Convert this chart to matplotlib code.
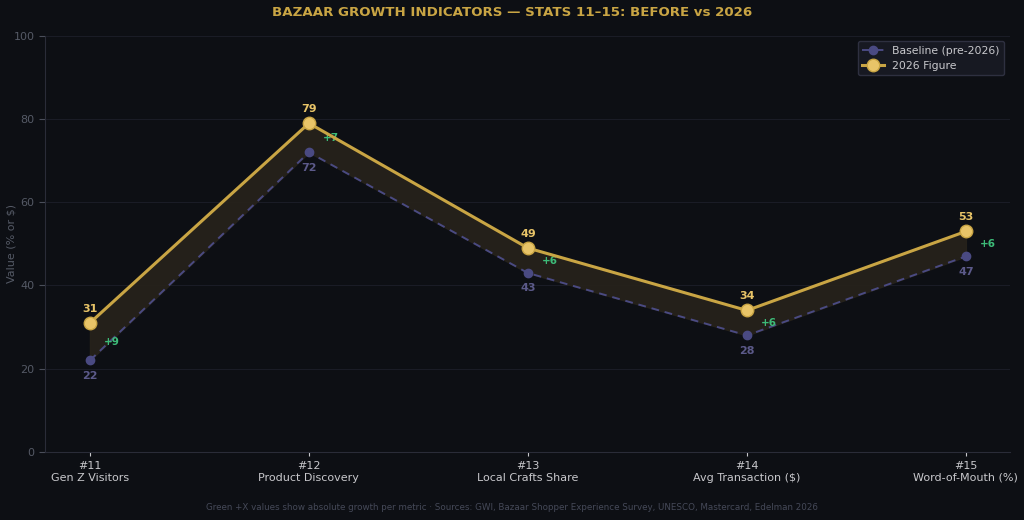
import matplotlib
matplotlib.use("Agg")
import matplotlib.pyplot as plt
import numpy as np

categories = ["#11\nGen Z Visitors", "#12\nProduct Discovery", "#13\nLocal Crafts Share",
              "#14\nAvg Transaction ($)", "#15\nWord-of-Mouth (%)"]
baseline = [22, 72, 43, 28, 47]
fig2026 = [31, 79, 49, 34, 53]

BG = "#0d0f14"
GOLD = "#e8c468"
GOLDLINE = "#c9a544"
PURPLE = "#4a4a82"
GREEN = "#3dbb78"

fig = plt.figure(figsize=(10.24, 5.2), dpi=100, facecolor=BG)
ax = fig.add_axes([0.044, 0.131, 0.942, 0.8])
ax.set_facecolor(BG)
x = np.arange(len(categories))

ax.fill_between(x, baseline, fig2026, color="#26221b", alpha=0.95, zorder=1)
ax.plot(x, baseline, linestyle=(0, (4, 3)), color=PURPLE, lw=1.4, marker="o",
        markersize=6, markerfacecolor=PURPLE, markeredgecolor=PURPLE,
        label="Baseline (pre-2026)", zorder=3)
ax.plot(x, fig2026, linestyle="-", color=GOLDLINE, lw=2.2, marker="o",
        markersize=9, markerfacecolor=GOLD, markeredgecolor=GOLDLINE,
        label="2026 Figure", zorder=4)

for xi, b, f in zip(x, baseline, fig2026):
    ax.annotate(str(f), (xi, f), xytext=(0, 6.5), textcoords="offset points",
                ha="center", va="bottom", color=GOLD, fontsize=8, fontweight="bold")
    ax.annotate(str(b), (xi, b), xytext=(0, -7.5), textcoords="offset points",
                ha="center", va="top", color="#5c5a8a", fontsize=8, fontweight="bold")
    ax.text(xi + 0.1, (b + f) / 2, f"+{f - b}", ha="center", va="center",
            color=GREEN, fontsize=7.5, fontweight="bold")

ax.set_xlim(-0.205, 4.2)
ax.set_ylim(0, 100)
ax.set_xticks(x)
ax.set_xticklabels(categories, color="#c8c8cc", fontsize=8)
ax.set_yticks([0, 20, 40, 60, 80, 100])
ax.tick_params(axis="y", colors="#4a4e5a", labelsize=8, length=4)
ax.tick_params(axis="x", colors="#c8c8cc", length=3)
for lab in ax.get_yticklabels():
    lab.set_color("#555a66")
ax.set_ylabel("Value (% or $)", color="#555a66", fontsize=8)
ax.yaxis.set_label_coords(-0.03, 0.5)
ax.grid(axis="y", color="#1a1c26", lw=0.8)
ax.set_axisbelow(True)
for s in ["top", "right"]:
    ax.spines[s].set_visible(False)
for s in ["left", "bottom"]:
    ax.spines[s].set_color("#2a2c38")

leg = ax.legend(loc="upper right", facecolor="#171922", edgecolor="#2e3040",
                fontsize=7.8, labelcolor="#c8c8cc", framealpha=1)

fig.text(0.5, 0.975, "BAZAAR GROWTH INDICATORS — STATS 11–15: BEFORE vs 2026",
         ha="center", va="center", color="#c9a544", fontsize=9.6, fontweight="bold")
fig.text(0.5, 0.024, "Green +X values show absolute growth per metric · Sources: GWI, Bazaar Shopper Experience Survey, UNESCO, Mastercard, Edelman 2026",
         ha="center", va="center", color="#454958", fontsize=6.3)

fig.savefig("out.png", dpi=100, facecolor=BG)
